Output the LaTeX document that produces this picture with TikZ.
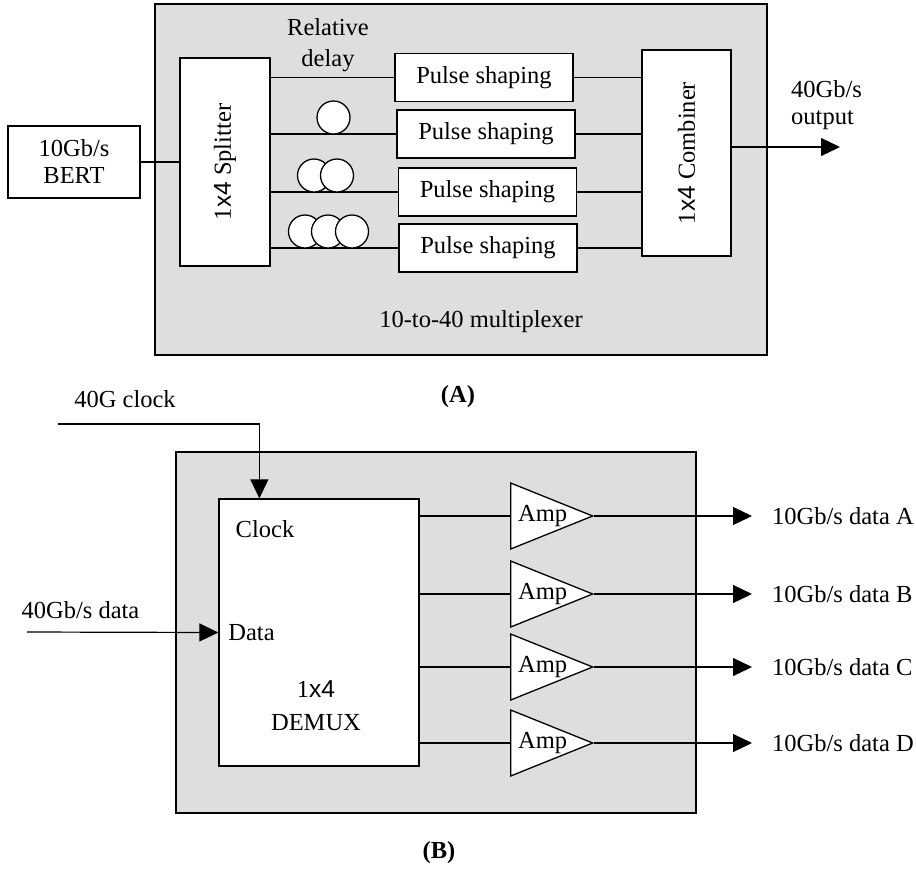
\documentclass[tikz,border=0pt]{standalone}
\usepackage{fontspec}
\setmainfont{Liberation Serif}
\newfontfamily\arialx{Liberation Sans}
\usetikzlibrary{arrows.meta,positioning,shapes.geometric}
\newcommand\figfont{\fontsize{24.5}{27}\selectfont}

\begin{document}
\begin{tikzpicture}[
  x=1pt, y=-1pt,
  every node/.style={font=\figfont, inner sep=1pt},
  panel/.style={draw, line width=1.5pt, fill=black!13},
  block/.style={draw, line width=1.3pt, fill=white, inner sep=0pt},
  pulse/.style={block, minimum width=178pt, minimum height=48pt},
  coil/.style={draw, line width=1.3pt, fill=white, circle, minimum size=33pt, inner sep=0pt},
  amp/.style={draw, line width=1.3pt, fill=white, isosceles triangle, isosceles triangle stretches, minimum width=66pt, minimum height=82pt, inner sep=0pt},
  line/.style={line width=1.2pt},
  arrow/.style={line, -{Triangle[length=19pt,width=18pt]}}
]
\useasboundingbox (0,0) rectangle (916,871);

% (A) 10-to-40 multiplexer
\draw[panel] (155,4) rectangle (767,355);
\node[block, minimum width=132pt, minimum height=72pt, align=center] (bert) at (74,162) {10Gb/s\\BERT};
\node[block, minimum width=90pt, minimum height=208pt] (splitter) at (225,162) {};
\node[rotate=90] at (splitter) {1{\arialx x4} Splitter};
\node[pulse] (ps1) at (484,77.5) {Pulse shaping};
\node[pulse] (ps2) at (486,134) {Pulse shaping};
\node[pulse] (ps3) at (487.5,192) {Pulse shaping};
\node[pulse] (ps4) at (488,248) {Pulse shaping};
\node[block, minimum width=89pt, minimum height=206pt] (comb) at (686.5,153) {};
\node[rotate=90] at (comb) {1{\arialx x4} Combiner};
\node[align=center] (delay) at (328,45) {Relative\\[4pt]delay};

\draw[line] (bert) -- (bert -| splitter.west);
\draw[line] (splitter.east |- ps1.west) -- (ps1.west);
\draw[line] (splitter.east |- ps2.west) -- (ps2.west);
\draw[line] (splitter.east |- ps3.west) -- (ps3.west);
\draw[line] (splitter.east |- ps4.west) -- (ps4.west);
\draw[line] (ps1.east) -- (ps1.east -| comb.west);
\draw[line] (ps2.east) -- (ps2.east -| comb.west);
\draw[line] (ps3.east) -- (ps3.east -| comb.west);
\draw[line] (ps4.east) -- (ps4.east -| comb.west);

% fibre delay coils
\node[coil] (coil21) at (333.5,117.5) {};
\node[coil] (coil31) at (314,175.5) {};
\node[coil] (coil32) at (337,175.5) {};
\node[coil] (coil41) at (305,231.5) {};
\node[coil] (coil42) at (328,231.5) {};
\node[coil] (coil43) at (352,231.5) {};

\coordinate (muxout) at (840,147);
\draw[arrow] (comb.east |- muxout) -- (muxout);
\node[align=left, anchor=west] (outlbl) at (790,105) {40Gb/s\\output};
\node (muxname) at (481,322) {10-to-40 multiplexer};
\node[font=\figfont\bfseries] (capA) at (458,397) {(A)};

% (B) 1x4 demultiplexer
\draw[panel] (176,452) rectangle (696,813);
\node[block, minimum width=200pt, minimum height=267pt] (demux) at (319,632.5) {};
\node (clktxt) at (265,529) {Clock};
\node (datatxt) at (251.5,633) {Data};
\node[align=center] (demuxname) at (316,706) {1{\arialx x4}\\[6pt]DEMUX};

\coordinate (clkin) at (58,424);
\coordinate (datain) at (27,632);
\node (clklbl) at (125,399) {40G clock};
\node (datalbl) at (80.5,610) {40Gb/s data};
\draw[arrow] (clkin) -| ([xshift=41pt]demux.north west);
\draw[arrow] (datain) -- (demux.west);

\node[amp, anchor=west] (amp1) at (510,516) {};
\node[amp, anchor=west] (amp2) at (510,594) {};
\node[amp, anchor=west] (amp3) at (510,667) {};
\node[amp, anchor=west] (amp4) at (510,743) {};
\node[right=7pt of amp1.west] {Amp};
\node[right=7pt of amp2.west] {Amp};
\node[right=7pt of amp3.west] {Amp};
\node[right=7pt of amp4.west] {Amp};

\draw[line] (demux.east |- amp1.west) -- (amp1.west);
\draw[line] (demux.east |- amp2.west) -- (amp2.west);
\draw[line] (demux.east |- amp3.west) -- (amp3.west);
\draw[line] (demux.east |- amp4.west) -- (amp4.west);

\coordinate (outa) at (752,516);
\coordinate (outb) at (752,594);
\coordinate (outc) at (752,667);
\coordinate (outd) at (752,743);
\draw[arrow] (amp1.east) -- (outa);
\draw[arrow] (amp2.east) -- (outb);
\draw[arrow] (amp3.east) -- (outc);
\draw[arrow] (amp4.east) -- (outd);
\node[right=19pt of outa] {10Gb/s data A};
\node[right=19pt of outb] {10Gb/s data B};
\node[right=19pt of outc] {10Gb/s data C};
\node[right=19pt of outd] {10Gb/s data D};
\node[font=\figfont\bfseries] (capB) at (439,853) {(B)};
\end{tikzpicture}
\end{document}
